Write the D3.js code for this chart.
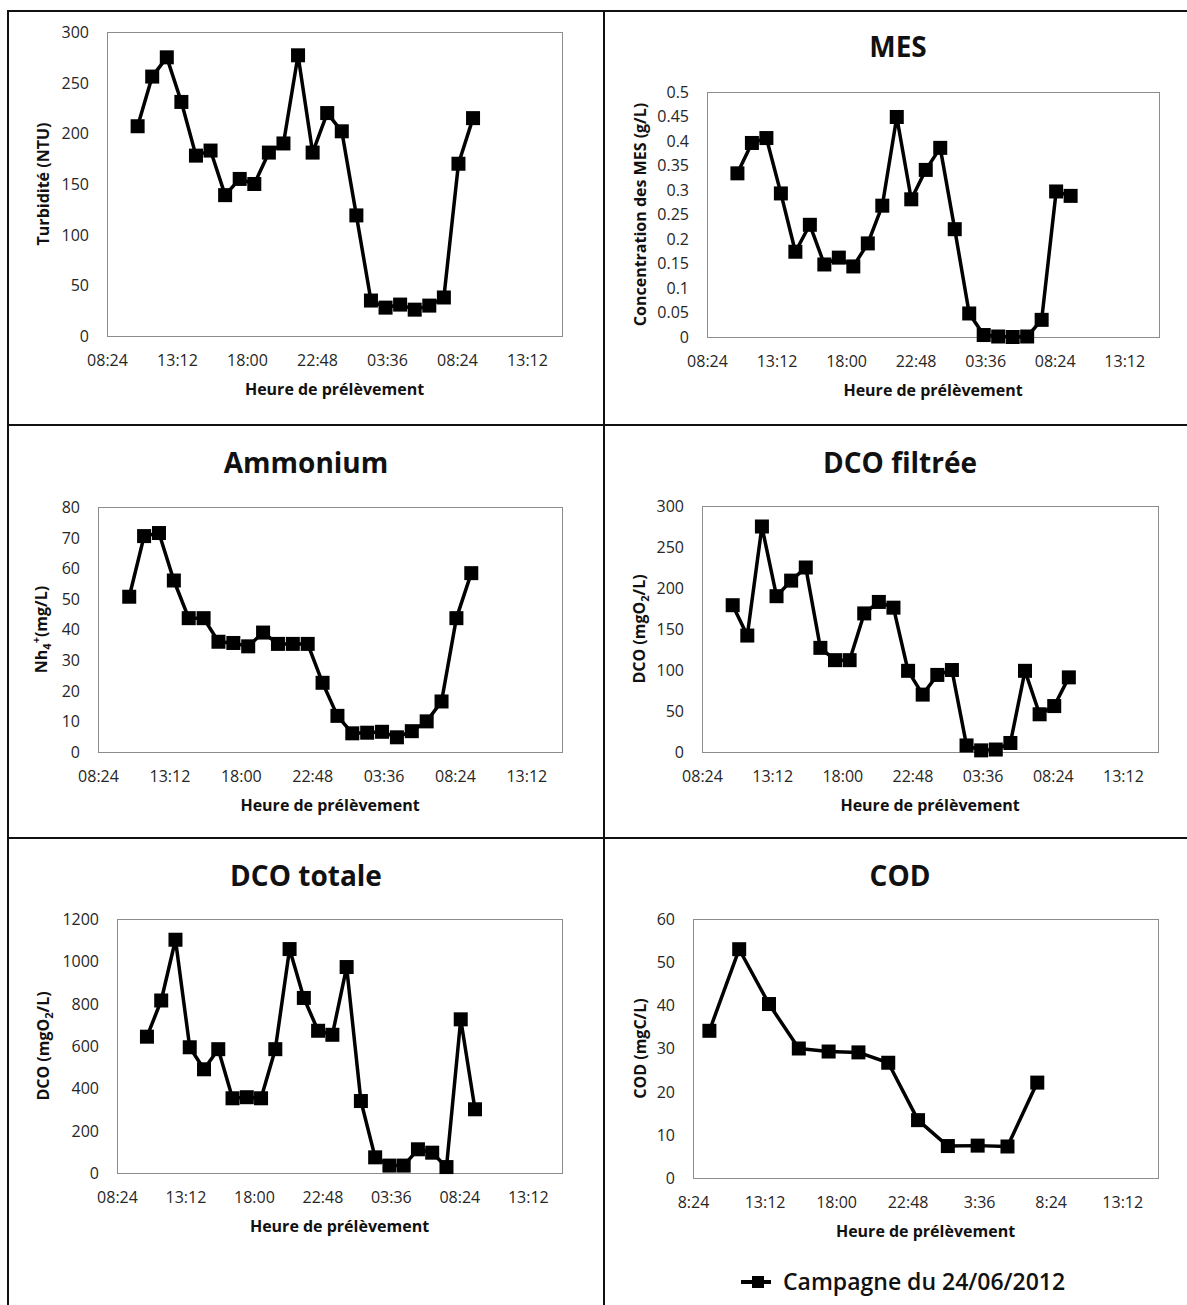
<!DOCTYPE html>
<html>
<head>
<meta charset="utf-8">
<script src="https://cdn.jsdelivr.net/npm/d3@7"></script>
<style>
  html, body { margin: 0; padding: 0; background: #fff; }
  svg { display: block; }
  text { font-family: "Open Sans", "DejaVu Sans", sans-serif; }
</style>
</head>
<body>
<svg id="chart" width="1187" height="1305"></svg>
<script>
// ---------- DATA ----------
// sampling times, in hours from midnight of 24/06/2012 (values > 24 are the next day)
const hourlyTimes = [10.5, 11.5, 12.5, 13.5, 14.5, 15.5, 16.5, 17.5, 18.5, 19.5, 20.5, 21.5,
                     22.5, 23.5, 24.5, 25.5, 26.5, 27.5, 28.5, 29.5, 30.5, 31.5, 32.5, 33.5];
const codTimes = [9.5, 11.5, 13.5, 15.5, 17.5, 19.5, 21.5, 23.5, 25.5, 27.5, 29.5, 31.5];

const turbidite = [207, 256, 275, 231, 178, 183, 139, 155, 150, 181, 190, 277,
                   181, 220, 202, 119, 35, 28, 31, 26, 30, 38, 170, 215];
const mes = [0.334, 0.396, 0.406, 0.293, 0.174, 0.229, 0.148, 0.162, 0.144, 0.191, 0.268, 0.449,
             0.281, 0.341, 0.386, 0.220, 0.048, 0.004, 0.001, 0.0, 0.001, 0.035, 0.297, 0.288];
const ammonium = [50.7, 70.5, 71.5, 56.0, 43.7, 43.7, 36.0, 35.6, 34.5, 39.0, 35.3, 35.3,
                  35.3, 22.6, 11.8, 6.1, 6.3, 6.6, 4.8, 6.8, 10.0, 16.5, 43.7, 58.4];
const dcoFiltree = [179, 142, 275, 190, 209, 225, 127, 112, 112, 169, 183, 176,
                    99, 70, 94, 100, 8, 2, 3, 11, 99, 46, 56, 91];
const dcoTotale = [644, 815, 1102, 594, 490, 585, 353, 358, 353, 585, 1058, 827,
                   672, 653, 973, 340, 74, 35, 35, 112, 96, 28, 726, 301];
const cod = [34.1, 53.0, 40.3, 30.0, 29.3, 29.1, 26.7, 13.4, 7.4, 7.5, 7.3, 22.1];

// x axis (hours): 08:24 day 1 ... 13:12 day 2, every 4h48
const xTickValues = [8.4, 13.2, 18.0, 22.8, 27.6, 32.4, 37.2];
const xTickLabels = ["08:24", "13:12", "18:00", "22:48", "03:36", "08:24", "13:12"];
const xTickLabelsCod = ["8:24", "13:12", "18:00", "22:48", "3:36", "8:24", "13:12"];
const xDomain = [8.4, 39.6];

const yTicksTurb = [0, 50, 100, 150, 200, 250, 300];
const yTicksMes = [0, 0.05, 0.1, 0.15, 0.2, 0.25, 0.3, 0.35, 0.4, 0.45, 0.5];
const yTicksAmm = [0, 10, 20, 30, 40, 50, 60, 70, 80];
const yTicksDcoF = [0, 50, 100, 150, 200, 250, 300];
const yTicksDcoT = [0, 200, 400, 600, 800, 1000, 1200];
const yTicksCod = [0, 10, 20, 30, 40, 50, 60];

const xAxisTitle = "Heure de prélèvement";
const legendLabel = "Campagne du 24/06/2012";

// ---------- DRAWING ----------
const svg = d3.select("#chart");

// table frame
const frame = svg.append("g").attr("stroke", "#111").attr("stroke-width", 2).attr("fill", "none");
frame.append("line").attr("x1", 8).attr("x2", 8).attr("y1", 10).attr("y2", 1305);
frame.append("line").attr("x1", 604).attr("x2", 604).attr("y1", 10).attr("y2", 1305);
frame.append("line").attr("x1", 7).attr("x2", 1187).attr("y1", 11).attr("y2", 11);
frame.append("line").attr("x1", 7).attr("x2", 1187).attr("y1", 425).attr("y2", 425);
frame.append("line").attr("x1", 7).attr("x2", 1187).attr("y1", 838).attr("y2", 838);

function drawPanel(cfg) {
  const g = svg.append("g");
  const b = cfg.box;
  const x = d3.scaleLinear().domain(xDomain).range([b.left, b.right]);
  const y = d3.scaleLinear().domain([0, cfg.yTicks[cfg.yTicks.length - 1]]).range([b.bottom, b.top]);

  // plot area border
  g.append("rect")
    .attr("x", b.left + 0.5).attr("y", b.top + 0.5)
    .attr("width", b.right - b.left).attr("height", b.bottom - b.top)
    .attr("fill", "none").attr("stroke", "#8c8c8c").attr("stroke-width", 1);

  // y axis labels
  const yAxis = d3.axisLeft(y).tickValues(cfg.yTicks).tickSize(0).tickPadding(18)
    .tickFormat(d => String(+d.toFixed(2)));
  const ya = g.append("g").attr("transform", `translate(${b.left},0)`).call(yAxis);
  ya.select(".domain").remove();
  ya.selectAll("text").attr("font-size", 16).attr("fill", "#262626")
    .attr("font-family", "'Open Sans', sans-serif").attr("dy", "0.34em");

  // x axis labels
  const labels = cfg.xLabels;
  const xAxis = d3.axisBottom(x).tickValues(xTickValues).tickSize(0).tickPadding(0)
    .tickFormat((d, i) => labels[i]);
  const xa = g.append("g").attr("transform", `translate(0,${b.bottom})`).call(xAxis);
  xa.select(".domain").remove();
  xa.selectAll("text").attr("font-size", 16).attr("fill", "#262626")
    .attr("font-family", "'Open Sans', sans-serif").attr("y", 25).attr("dy", "0.34em");

  // x axis title
  g.append("text")
    .attr("x", (b.left + b.right) / 2).attr("y", b.bottom + 54).attr("dy", "0.34em")
    .attr("text-anchor", "middle").attr("font-size", 16).attr("font-weight", 700)
    .attr("fill", "#111").text(xAxisTitle);

  // y axis title
  const yt = g.append("text")
    .attr("transform", `translate(${cfg.yTitleX},${(b.top + b.bottom) / 2}) rotate(-90)`)
    .attr("text-anchor", "middle").attr("dy", "0.34em")
    .attr("font-size", 16).attr("font-weight", 700).attr("fill", "#111");
  cfg.yTitle.forEach(part => {
    const t = yt.append("tspan").text(part.t);
    if (part.sub) t.attr("font-size", 11).attr("dy", 4);
    if (part.sup) t.attr("font-size", 11).attr("dy", part.dy);
    if (part.back) t.attr("dy", part.back);
  });

  // chart title
  if (cfg.title) {
    g.append("text")
      .attr("x", cfg.titleX).attr("y", cfg.titleY).attr("dy", "0.36em")
      .attr("text-anchor", "middle").attr("font-size", 28).attr("font-weight", 700)
      .attr("fill", "#111").text(cfg.title);
  }

  // series
  const pts = cfg.times.map((t, i) => [t, cfg.values[i]]);
  const line = d3.line().x(d => x(d[0])).y(d => y(d[1]));
  g.append("path").datum(pts).attr("d", line)
    .attr("fill", "none").attr("stroke", "#000").attr("stroke-width", 3.5)
    .attr("stroke-linejoin", "round");
  const ms = 14;
  g.selectAll("rect.marker").data(pts).join("rect").attr("class", "marker")
    .attr("x", d => x(d[0]) - ms / 2).attr("y", d => y(d[1]) - ms / 2)
    .attr("width", ms).attr("height", ms).attr("fill", "#000");
}

drawPanel({
  box: {left: 107, right: 562, top: 32, bottom: 336},
  yTicks: yTicksTurb, xLabels: xTickLabels,
  times: hourlyTimes, values: turbidite,
  yTitle: [{t: "Turbidité (NTU)"}], yTitleX: 44
});
drawPanel({
  box: {left: 707, right: 1159, top: 92, bottom: 337},
  yTicks: yTicksMes, xLabels: xTickLabels,
  times: hourlyTimes, values: mes,
  yTitle: [{t: "Concentration des MES (g/L)"}], yTitleX: 641,
  title: "MES", titleX: 898, titleY: 47
});
drawPanel({
  box: {left: 98, right: 562, top: 507, bottom: 752},
  yTicks: yTicksAmm, xLabels: xTickLabels,
  times: hourlyTimes, values: ammonium,
  yTitle: [{t: "Nh"}, {t: "4", sub: true}, {t: "+", sup: true, dy: -11}, {t: "(mg/L)", back: 7}],
  yTitleX: 42,
  title: "Ammonium", titleX: 306, titleY: 463
});
drawPanel({
  box: {left: 702, right: 1158, top: 506, bottom: 752},
  yTicks: yTicksDcoF, xLabels: xTickLabels,
  times: hourlyTimes, values: dcoFiltree,
  yTitle: [{t: "DCO (mgO"}, {t: "2", sub: true}, {t: "/L)", back: -4}], yTitleX: 640,
  title: "DCO filtrée", titleX: 900, titleY: 463
});
drawPanel({
  box: {left: 117, right: 562, top: 919, bottom: 1173},
  yTicks: yTicksDcoT, xLabels: xTickLabels,
  times: hourlyTimes, values: dcoTotale,
  yTitle: [{t: "DCO (mgO"}, {t: "2", sub: true}, {t: "/L)", back: -4}], yTitleX: 44,
  title: "DCO totale", titleX: 306, titleY: 876
});
drawPanel({
  box: {left: 693, right: 1158, top: 919, bottom: 1178},
  yTicks: yTicksCod, xLabels: xTickLabelsCod,
  times: codTimes, values: cod,
  yTitle: [{t: "COD (mgC/L)"}], yTitleX: 641,
  title: "COD", titleX: 900, titleY: 876
});

// legend
const lg = svg.append("g");
lg.append("line").attr("x1", 741).attr("x2", 771).attr("y1", 1282).attr("y2", 1282)
  .attr("stroke", "#000").attr("stroke-width", 4);
lg.append("rect").attr("x", 752).attr("y", 1276).attr("width", 12).attr("height", 12).attr("fill", "#000");
lg.append("text").attr("x", 783).attr("y", 1282).attr("dy", "0.36em")
  .attr("font-size", 23).attr("font-weight", 600).attr("fill", "#111").text(legendLabel);
</script>
</body>
</html>
